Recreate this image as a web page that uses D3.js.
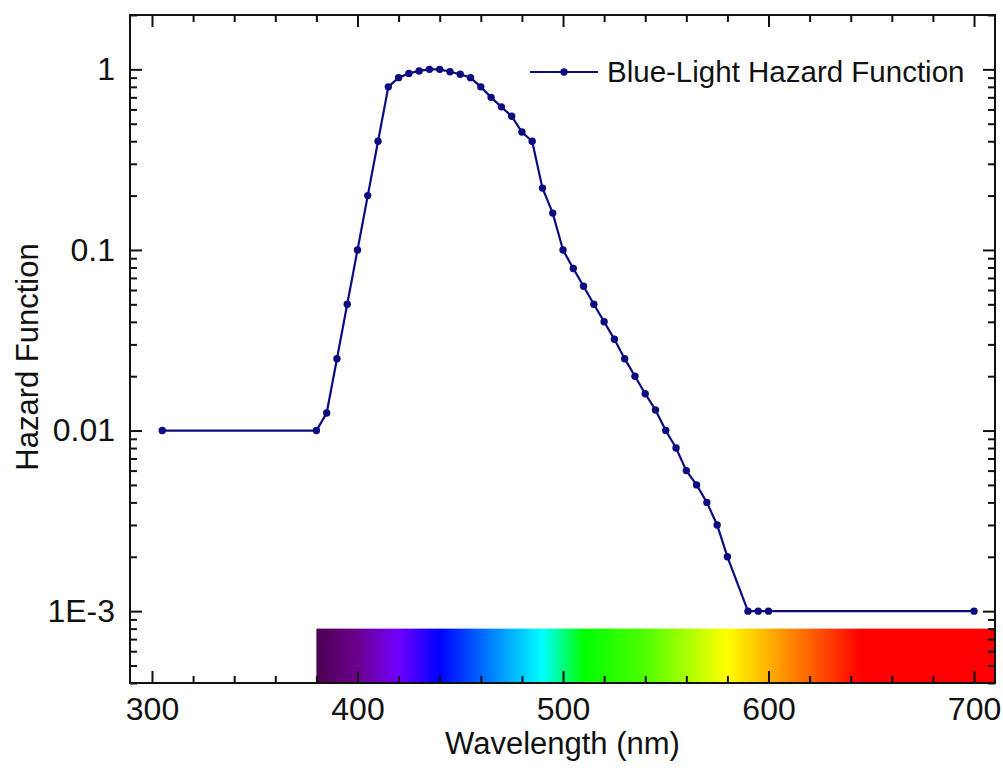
<!DOCTYPE html>
<html>
<head>
<meta charset="utf-8">
<script src="https://cdn.jsdelivr.net/npm/d3@7"></script>
<style>
  html, body { margin: 0; padding: 0; background: #fff; }
  svg text { font-family: "Liberation Sans", Arial, sans-serif; fill: #111; }
</style>
</head>
<body>
<svg id="chart" width="1003" height="768"></svg>
<script>
/* ── Data ───────────────────────────────────────────────────────── */
const wavelengths = [305, 380, 385, 390, 395, 400, 405, 410, 415, 420, 425, 430,
  435, 440, 445, 450, 455, 460, 465, 470, 475, 480, 485, 490, 495, 500, 505,
  510, 515, 520, 525, 530, 535, 540, 545, 550, 555, 560, 565, 570, 575, 580,
  590, 595, 600, 700];
const hazard = [0.01, 0.01, 0.0125, 0.025, 0.05, 0.10, 0.20, 0.40, 0.80, 0.90,
  0.95, 0.98, 1.0, 1.0, 0.97, 0.94, 0.90, 0.80, 0.70, 0.62, 0.55, 0.45, 0.40,
  0.22, 0.16, 0.10, 0.079, 0.063, 0.050, 0.040, 0.032, 0.025, 0.020, 0.016,
  0.013, 0.010, 0.008, 0.006, 0.005, 0.004, 0.003, 0.002, 0.001, 0.001, 0.001,
  0.001];

const xTicks      = [300, 400, 500, 600, 700];
const yTicks      = [0.001, 0.01, 0.1, 1];
const yTickLabels = ['1E-3', '0.01', '0.1', '1'];
const seriesName  = 'Blue-Light Hazard Function';

// visible-spectrum colour bar (wavelength -> colour stops)
const specNm    = [380, 400, 420, 440, 490, 510, 540, 580, 645, 711];
const specColor = ['#4b0050', '#6c008c', '#7000ff', '#0000ff', '#00ffff',
                   '#00ff00', '#50ff00', '#ffff00', '#ff0000', '#ff0000'];
const specFloor = 8e-4;   // top edge of the colour bar, in y units

/* ── Layout ─────────────────────────────────────────────────────── */
const M = { left: 130, top: 15, right: 8, bottom: 85 };
const W = 1003, H = 768;
const iw = W - M.left - M.right;   // 865
const ih = H - M.top - M.bottom;   // 668
const NAVY = '#0c0c80';
const MAJ = 12, MIN = 7;
const TICK_FS = 32, TITLE_FS = 31, LEGEND_FS = 29.5;

const svg = d3.select('#chart');
const g = svg.append('g').attr('transform', `translate(${M.left},${M.top})`);

const x = d3.scaleLinear().domain([289.3, 710.2]).range([0, iw]);
const y = d3.scaleLog().domain([4e-4, 2]).range([ih, 0]);

/* ── Spectrum bar ───────────────────────────────────────────────── */
const grad = svg.append('defs').append('linearGradient')
  .attr('id', 'spec')
  .attr('gradientUnits', 'userSpaceOnUse')
  .attr('x1', x(specNm[0])).attr('x2', x(specNm[specNm.length - 1]))
  .attr('y1', 0).attr('y2', 0);
const span = specNm[specNm.length - 1] - specNm[0];
specNm.forEach((nm, i) =>
  grad.append('stop')
    .attr('offset', (nm - specNm[0]) / span)
    .attr('stop-color', specColor[i]));

g.append('rect')
  .attr('x', x(specNm[0]))
  .attr('y', y(specFloor))
  .attr('width', iw - x(specNm[0]))
  .attr('height', ih - y(specFloor))
  .attr('fill', 'url(#spec)');

/* ── Axes (ticks pointing inward on all four sides) ─────────────── */
const xMinor = d3.range(300, 711, 20).filter(v => !xTicks.includes(v));
const yMinor = y.ticks().filter(v => !yTicks.some(t => Math.abs(t - v) < 1e-12));

function styleAxis(sel) {
  sel.select('.domain').remove();
  sel.selectAll('line').attr('stroke', '#111').attr('stroke-width', 2);
}

// bottom
g.append('g').attr('transform', `translate(0,${ih})`)
  .call(d3.axisBottom(x).tickValues(xTicks).tickSize(-MAJ).tickSizeOuter(0)
    .tickPadding(15).tickFormat(d3.format('d')))
  .call(styleAxis)
  .selectAll('text').attr('font-size', TICK_FS).attr('dy', '0.68em');
g.append('g').attr('transform', `translate(0,${ih})`)
  .call(d3.axisBottom(x).tickValues(xMinor).tickSize(-MIN).tickFormat(''))
  .call(styleAxis);
// top
[[xTicks, MAJ], [xMinor, MIN]].forEach(([tv, len]) =>
  g.append('g')
    .call(d3.axisTop(x).tickValues(tv).tickSize(-len).tickFormat(''))
    .call(styleAxis));
// left
g.append('g')
  .call(d3.axisLeft(y).tickValues(yTicks).tickSize(-MAJ).tickSizeOuter(0)
    .tickPadding(15).tickFormat((d, i) => yTickLabels[i]))
  .call(styleAxis)
  .selectAll('text').attr('font-size', TICK_FS);
g.append('g')
  .call(d3.axisLeft(y).tickValues(yMinor).tickSize(-MIN).tickFormat(''))
  .call(styleAxis);
// right
[[yTicks, MAJ], [yMinor, MIN]].forEach(([tv, len]) =>
  g.append('g').attr('transform', `translate(${iw},0)`)
    .call(d3.axisRight(y).tickValues(tv).tickSize(-len).tickFormat(''))
    .call(styleAxis));

// frame
g.append('rect')
  .attr('width', iw).attr('height', ih)
  .attr('fill', 'none').attr('stroke', '#111').attr('stroke-width', 2);

/* ── Series ─────────────────────────────────────────────────────── */
const pts = wavelengths.map((w, i) => [w, hazard[i]]);
g.append('path')
  .datum(pts)
  .attr('fill', 'none')
  .attr('stroke', NAVY)
  .attr('stroke-width', 2.2)
  .attr('d', d3.line().x(d => x(d[0])).y(d => y(d[1])));
g.selectAll('.dot')
  .data(pts)
  .join('circle')
  .attr('class', 'dot')
  .attr('cx', d => x(d[0]))
  .attr('cy', d => y(d[1]))
  .attr('r', 3.7)
  .attr('fill', NAVY);

/* ── Legend ─────────────────────────────────────────────────────── */
const lg = g.append('g').attr('transform', `translate(${530 - M.left},${72 - M.top})`);
lg.append('line').attr('x1', 0).attr('x2', 68).attr('y1', 0).attr('y2', 0)
  .attr('stroke', NAVY).attr('stroke-width', 2.2);
lg.append('circle').attr('cx', 34).attr('cy', 0).attr('r', 3.7).attr('fill', NAVY);
lg.append('text').attr('x', 77).attr('y', 0).attr('dy', '0.35em')
  .attr('font-size', LEGEND_FS).text(seriesName);

/* ── Axis titles ────────────────────────────────────────────────── */
g.append('text')
  .attr('x', iw / 2).attr('y', ih + 71)
  .attr('text-anchor', 'middle').attr('font-size', TITLE_FS)
  .text('Wavelength (nm)');
g.append('text')
  .attr('transform', `translate(${38 - M.left},${ih / 2 + 8}) rotate(-90)`)
  .attr('text-anchor', 'middle').attr('font-size', TITLE_FS)
  .text('Hazard Function');
</script>
</body>
</html>
